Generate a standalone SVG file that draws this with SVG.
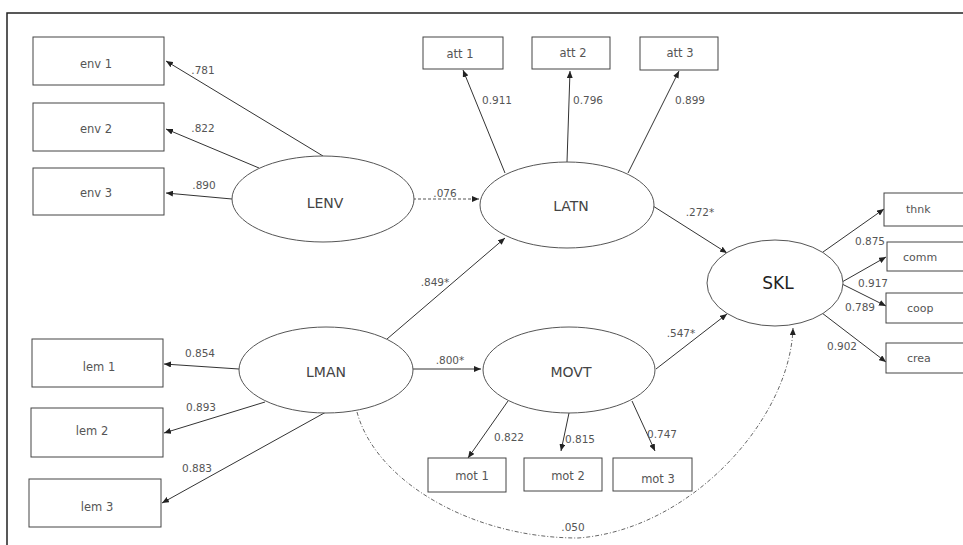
<svg xmlns="http://www.w3.org/2000/svg" width="963" height="545" viewBox="0 0 963 545">
<style>
.box{fill:#fff;stroke:#444;stroke-width:1}
.lat{fill:#fff;stroke:#555;stroke-width:1}
.bt{font-family:"DejaVu Sans",sans-serif;font-size:11.5px;fill:#555;text-anchor:middle;dominant-baseline:central}
.rt{font-family:"DejaVu Sans",sans-serif;font-size:11px;fill:#555;dominant-baseline:central}
.lt{font-family:"DejaVu Sans",sans-serif;font-size:14px;fill:#444;text-anchor:middle;dominant-baseline:central}
.sk{font-family:"DejaVu Sans",sans-serif;font-size:17px;fill:#222;text-anchor:middle;dominant-baseline:central}
.nt{font-family:"DejaVu Sans",sans-serif;font-size:10.5px;fill:#555;text-anchor:middle;dominant-baseline:central}
.ln{stroke:#333;stroke-width:1;fill:none;marker-end:url(#ah)}
.dash{stroke:#555;stroke-width:1;fill:none;stroke-dasharray:3 2;marker-end:url(#ah)}
.dd{stroke:#666;stroke-width:1;fill:none;stroke-dasharray:4 2 1 2;marker-end:url(#ah)}
</style>
<defs>
<marker id="ah" markerUnits="userSpaceOnUse" markerWidth="8" markerHeight="6" refX="7" refY="3" orient="auto">
<path d="M0,0 L7,3 L0,6 z" fill="#222"/>
</marker>
</defs>
<rect x="0" y="0" width="963" height="545" fill="#fff"/>
<path d="M7,545 L7,13 L963,13" fill="none" stroke="#222" stroke-width="1.5"/>

<g id="connectors">
<line class="ln" x1="323" y1="156" x2="166" y2="61"/>
<line class="ln" x1="259" y1="168" x2="166" y2="129"/>
<line class="ln" x1="232" y1="199" x2="166" y2="193"/>
<line class="dash" x1="413" y1="199" x2="479" y2="199"/>
<line class="ln" x1="505" y1="173" x2="463" y2="70"/>
<line class="ln" x1="567" y1="162" x2="570" y2="71"/>
<line class="ln" x1="628" y1="173" x2="679" y2="71"/>
<line class="ln" x1="653" y1="206" x2="727" y2="253"/>
<line class="ln" x1="387" y1="339" x2="505" y2="238"/>
<line class="ln" x1="413" y1="369" x2="481" y2="369"/>
<line class="ln" x1="656" y1="369" x2="727" y2="314"/>
<line class="ln" x1="239" y1="369" x2="164" y2="364"/>
<line class="ln" x1="265" y1="402" x2="164" y2="433"/>
<line class="ln" x1="326" y1="412" x2="162" y2="503"/>
<line class="ln" x1="508" y1="401" x2="468" y2="458"/>
<line class="ln" x1="569" y1="413" x2="561" y2="451"/>
<line class="ln" x1="632" y1="401" x2="655" y2="451"/>
<line class="ln" x1="823" y1="252" x2="884" y2="209"/>
<line class="ln" x1="842" y1="282" x2="886" y2="257"/>
<line class="ln" x1="842" y1="284" x2="886" y2="306"/>
<line class="ln" x1="822" y1="313" x2="886" y2="362"/>
<path class="dd" d="M357,412 C375,480 470,538 578,538 C690,530 790,420 793,328"/>
<text class="nt" x="203" y="70">.781</text>
<text class="nt" x="203" y="128">.822</text>
<text class="nt" x="204" y="185">.890</text>
<text class="nt" x="445" y="193">.076</text>
<text class="nt" x="497" y="100">0.911</text>
<text class="nt" x="588" y="100">0.796</text>
<text class="nt" x="690" y="100">0.899</text>
<text class="nt" x="700" y="212">.272*</text>
<text class="nt" x="435" y="282">.849*</text>
<text class="nt" x="450" y="360">.800*</text>
<text class="nt" x="681" y="333">.547*</text>
<text class="nt" x="200" y="353">0.854</text>
<text class="nt" x="201" y="407">0.893</text>
<text class="nt" x="197" y="468">0.883</text>
<text class="nt" x="509" y="437">0.822</text>
<text class="nt" x="580" y="439">0.815</text>
<text class="nt" x="662" y="434">0.747</text>
<text class="nt" x="870" y="241">0.875</text>
<text class="nt" x="873" y="283">0.917</text>
<text class="nt" x="860" y="307">0.789</text>
<text class="nt" x="842" y="346">0.902</text>
<text class="nt" x="573" y="527">.050</text>
</g>

<g id="env1"><rect class="box" x="33" y="37" width="131" height="48"/><text class="bt" x="96" y="64">env 1</text></g>
<g id="env2"><rect class="box" x="33" y="103" width="131" height="48"/><text class="bt" x="96" y="129">env 2</text></g>
<g id="env3"><rect class="box" x="33" y="168" width="131" height="47"/><text class="bt" x="96" y="193">env 3</text></g>
<g id="LENV"><ellipse class="lat" cx="323" cy="199" rx="91" ry="43"/><text class="lt" x="325" y="203">LENV</text></g>

<g id="att1"><rect class="box" x="423" y="37" width="80" height="32"/><text class="bt" x="460" y="54">att 1</text></g>
<g id="att2"><rect class="box" x="532" y="37" width="78" height="32"/><text class="bt" x="573" y="53">att 2</text></g>
<g id="att3"><rect class="box" x="640" y="37" width="78" height="33"/><text class="bt" x="680" y="53">att 3</text></g>
<g id="LATN"><ellipse class="lat" cx="567" cy="205" rx="87" ry="43"/><text class="lt" x="571" y="206">LATN</text></g>

<g id="SKL"><ellipse class="lat" cx="775" cy="283" rx="68" ry="43"/><text class="sk" x="778" y="283">SKL</text></g>
<g id="thnk"><rect class="box" x="884" y="193" width="85" height="33"/><text class="rt" x="906" y="209">thnk</text></g>
<g id="comm"><rect class="box" x="887" y="242" width="82" height="29"/><text class="rt" x="903" y="257">comm</text></g>
<g id="coop"><rect class="box" x="886" y="293" width="83" height="30"/><text class="rt" x="907" y="308">coop</text></g>
<g id="crea"><rect class="box" x="886" y="343" width="83" height="30"/><text class="rt" x="907" y="358">crea</text></g>

<g id="LMAN"><ellipse class="lat" cx="326" cy="370" rx="87" ry="43"/><text class="lt" x="326" y="372">LMAN</text></g>
<g id="lem1"><rect class="box" x="32" y="339" width="131" height="48"/><text class="bt" x="99" y="367">lem 1</text></g>
<g id="lem2"><rect class="box" x="31" y="408" width="132" height="49"/><text class="bt" x="92" y="431">lem 2</text></g>
<g id="lem3"><rect class="box" x="29" y="479" width="132" height="48"/><text class="bt" x="97" y="507">lem 3</text></g>

<g id="MOVT"><ellipse class="lat" cx="569" cy="370" rx="86" ry="43"/><text class="lt" x="571" y="372">MOVT</text></g>
<g id="mot1"><rect class="box" x="428" y="458" width="78" height="34"/><text class="bt" x="472" y="476">mot 1</text></g>
<g id="mot2"><rect class="box" x="524" y="458" width="78" height="33"/><text class="bt" x="568" y="476">mot 2</text></g>
<g id="mot3"><rect class="box" x="613" y="458" width="79" height="33"/><text class="bt" x="658" y="479">mot 3</text></g>
</svg>
